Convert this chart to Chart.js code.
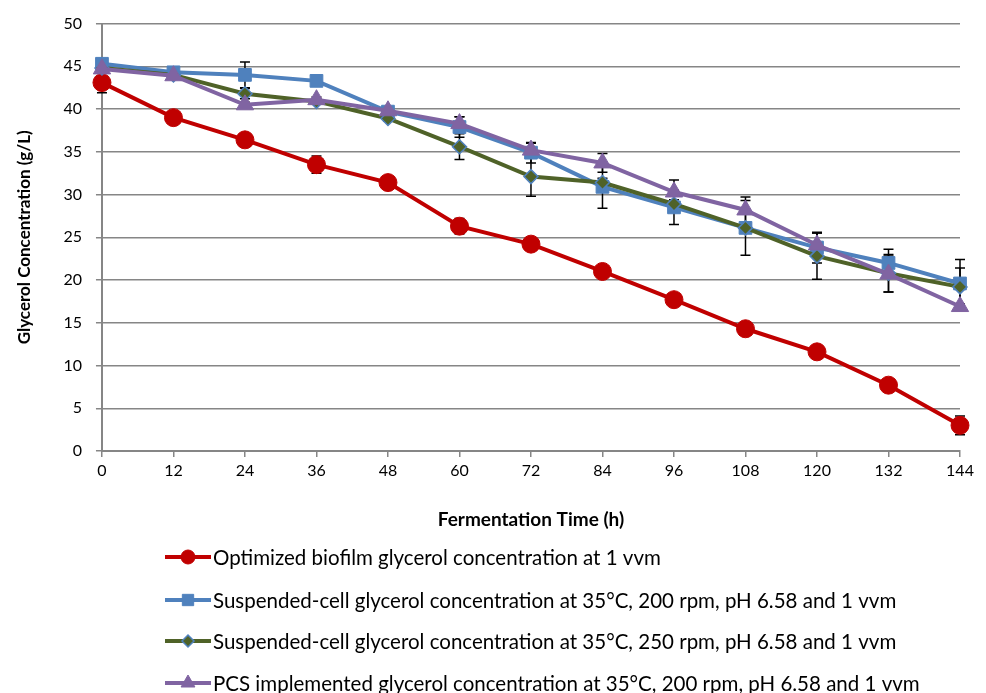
<!DOCTYPE html>
<html>
<head>
<meta charset="utf-8">
<script src="https://cdn.jsdelivr.net/npm/chart.js@4.4.1/dist/chart.umd.min.js"></script>
<style>
  html, body { margin: 0; padding: 0; background: #fff; }
  #wrap { width: 986px; height: 693px; }
</style>
</head>
<body>
<div id="wrap"><canvas id="myChart" width="986" height="693"></canvas></div>
<script>
// fermentation time (h)
const hours = [0, 12, 24, 36, 48, 60, 72, 84, 96, 108, 120, 132, 144];

// glycerol concentration (g/L)
const biofilm = [43.1, 39.0, 36.4, 33.5, 31.4, 26.3, 24.2, 21.0, 17.7, 14.3, 11.6, 7.7, 3.0];
const susp200 = [45.3, 44.3, 44.0, 43.3, 39.7, 37.9, 34.9, 30.9, 28.5, 26.1, 23.8, 22.0, 19.6];
const susp250 = [44.8, 44.0, 41.8, 40.9, 38.9, 35.6, 32.1, 31.4, 28.9, 26.1, 22.8, 20.8, 19.2];
const pcs200 = [44.7, 43.9, 40.5, 41.1, 39.8, 38.3, 35.2, 33.7, 30.3, 28.2, 24.1, 20.7, 16.9];

// standard deviations
const biofilmErr = [1.2, 0.3, 0.4, 1.0, 0.3, 0.9, 0.3, 0.3, 0.3, 0.3, 0.3, 0.3, 1.1];
const susp200Err = [0.3, 0.3, 1.5, 0.3, 0.3, 1.2, 1.2, 2.5, 2.0, 0.5, 1.8, 1.6, 2.8];
const susp250Err = [0.3, 0.3, 0.6, 0.3, 0.3, 1.5, 2.3, 0.5, 0.5, 3.2, 2.7, 2.2, 2.2];
const pcs200Err = [0.3, 0.3, 0.3, 0.3, 0.3, 0.8, 0.8, 1.1, 1.4, 1.5, 1.4, 2.1, 0.3];

const seriesNames = [
  "Optimized biofilm glycerol concentration at 1 vvm",
  "Suspended-cell glycerol concentration at 35\u00B0C, 200 rpm, pH 6.58 and 1 vvm",
  "Suspended-cell glycerol concentration at 35\u00B0C, 250 rpm, pH 6.58 and 1 vvm",
  "PCS implemented glycerol concentration at 35\u00B0C, 200 rpm, pH 6.58 and 1 vvm"
];

const FONT = "Lato, 'Open Sans', sans-serif";

function pts(vals) {
  return vals.map((v, i) => ({ x: hours[i], y: v }));
}

// error bars, drawn under the markers
const errorBars = {
  id: "errorBars",
  beforeDatasetsDraw(chart) {
    const ctx = chart.ctx;
    const xs = chart.scales.x, ys = chart.scales.y;
    ctx.save();
    ctx.strokeStyle = "#000";
    ctx.lineWidth = 1.5;
    chart.data.datasets.forEach(ds => {
      ds.errors.forEach((e, i) => {
        const px = xs.getPixelForValue(hours[i]);
        const top = ys.getPixelForValue(ds.data[i].y + e);
        const bot = ys.getPixelForValue(ds.data[i].y - e);
        ctx.beginPath();
        ctx.moveTo(px, top); ctx.lineTo(px, bot);
        ctx.moveTo(px - 5, top); ctx.lineTo(px + 5, top);
        ctx.moveTo(px - 5, bot); ctx.lineTo(px + 5, bot);
        ctx.stroke();
      });
    });
    ctx.restore();
  }
};

// vertical legend below the x-axis title
const sideLegend = {
  id: "sideLegend",
  afterDraw(chart) {
    const ctx = chart.ctx;
    const rows = [557, 600, 641, 683];
    ctx.save();
    chart.data.datasets.forEach((ds, i) => {
      const y = rows[i];
      ctx.strokeStyle = ds.borderColor;
      ctx.lineWidth = 4;
      ctx.beginPath();
      ctx.moveTo(165, y); ctx.lineTo(211, y);
      ctx.stroke();
      ctx.fillStyle = ds.pointBackgroundColor;
      ctx.strokeStyle = ds.pointBorderColor;
      ctx.lineWidth = ds.pointBorderWidth;
      Chart.helpers.drawPoint(ctx, {
        pointStyle: ds.pointStyle,
        radius: ds.legendRadius,
        rotation: 0,
        borderWidth: ds.pointBorderWidth
      }, 188, y);
      ctx.fillStyle = "#000";
      ctx.font = "20.5px " + FONT;
      ctx.textBaseline = "middle";
      ctx.fillText(ds.label, 213, y + 1);
    });
    ctx.restore();
  }
};

new Chart(document.getElementById("myChart").getContext("2d"), {
  type: "line",
  data: {
    datasets: [
      {
        label: seriesNames[0], data: pts(biofilm), errors: biofilmErr,
        borderColor: "#C00000", borderWidth: 4, clip: false,
        pointStyle: "circle", pointRadius: 9, legendRadius: 7,
        pointBackgroundColor: "#C00000", pointBorderColor: "#C00000", pointBorderWidth: 1,
        order: 4
      },
      {
        label: seriesNames[1], data: pts(susp200), errors: susp200Err,
        borderColor: "#4F81BD", borderWidth: 4, clip: false,
        pointStyle: "rect", pointRadius: 9, legendRadius: 8,
        pointBackgroundColor: "#4F81BD", pointBorderColor: "#4F81BD", pointBorderWidth: 1,
        order: 3
      },
      {
        label: seriesNames[2], data: pts(susp250), errors: susp250Err,
        borderColor: "#4F6228", borderWidth: 4, clip: false,
        pointStyle: "rectRot", pointRadius: 7, legendRadius: 6,
        pointBackgroundColor: "#4F6228", pointBorderColor: "#4F81BD", pointBorderWidth: 1.5,
        order: 2
      },
      {
        label: seriesNames[3], data: pts(pcs200), errors: pcs200Err,
        borderColor: "#8064A2", borderWidth: 4, clip: false,
        pointStyle: "triangle", pointRadius: 10, legendRadius: 8,
        pointBackgroundColor: "#8064A2", pointBorderColor: "#8064A2", pointBorderWidth: 1,
        order: 1
      }
    ]
  },
  options: {
    responsive: false,
    animation: false,
    layout: { padding: { top: 20, right: 26, bottom: 158, left: 12 } },
    plugins: {
      legend: { display: false },
      tooltip: { enabled: false }
    },
    scales: {
      x: {
        type: "linear",
        min: 0, max: 144,
        ticks: { stepSize: 12, color: "#000", font: { family: FONT, size: 16 }, padding: 4 },
        grid: { drawOnChartArea: false, color: "#868686", tickLength: 6, lineWidth: 1.5 },
        border: { color: "#868686", width: 2 },
        title: {
          display: true, text: "Fermentation Time (h)", color: "#000",
          font: { family: FONT, size: 19, weight: "bold" }, padding: { top: 24 }
        }
      },
      y: {
        min: 0, max: 50,
        ticks: { stepSize: 5, color: "#000", font: { family: FONT, size: 16 }, padding: 14 },
        grid: { color: "#868686", lineWidth: 1.5, tickLength: 6 },
        border: { color: "#868686", width: 2 },
        title: {
          display: true, text: "Glycerol Concentration (g/L)", color: "#000",
          font: { family: FONT, size: 17, weight: "bold" }, padding: { top: 2, bottom: 15 }
        }
      }
    }
  },
  plugins: [errorBars, sideLegend]
});
</script>
</body>
</html>
